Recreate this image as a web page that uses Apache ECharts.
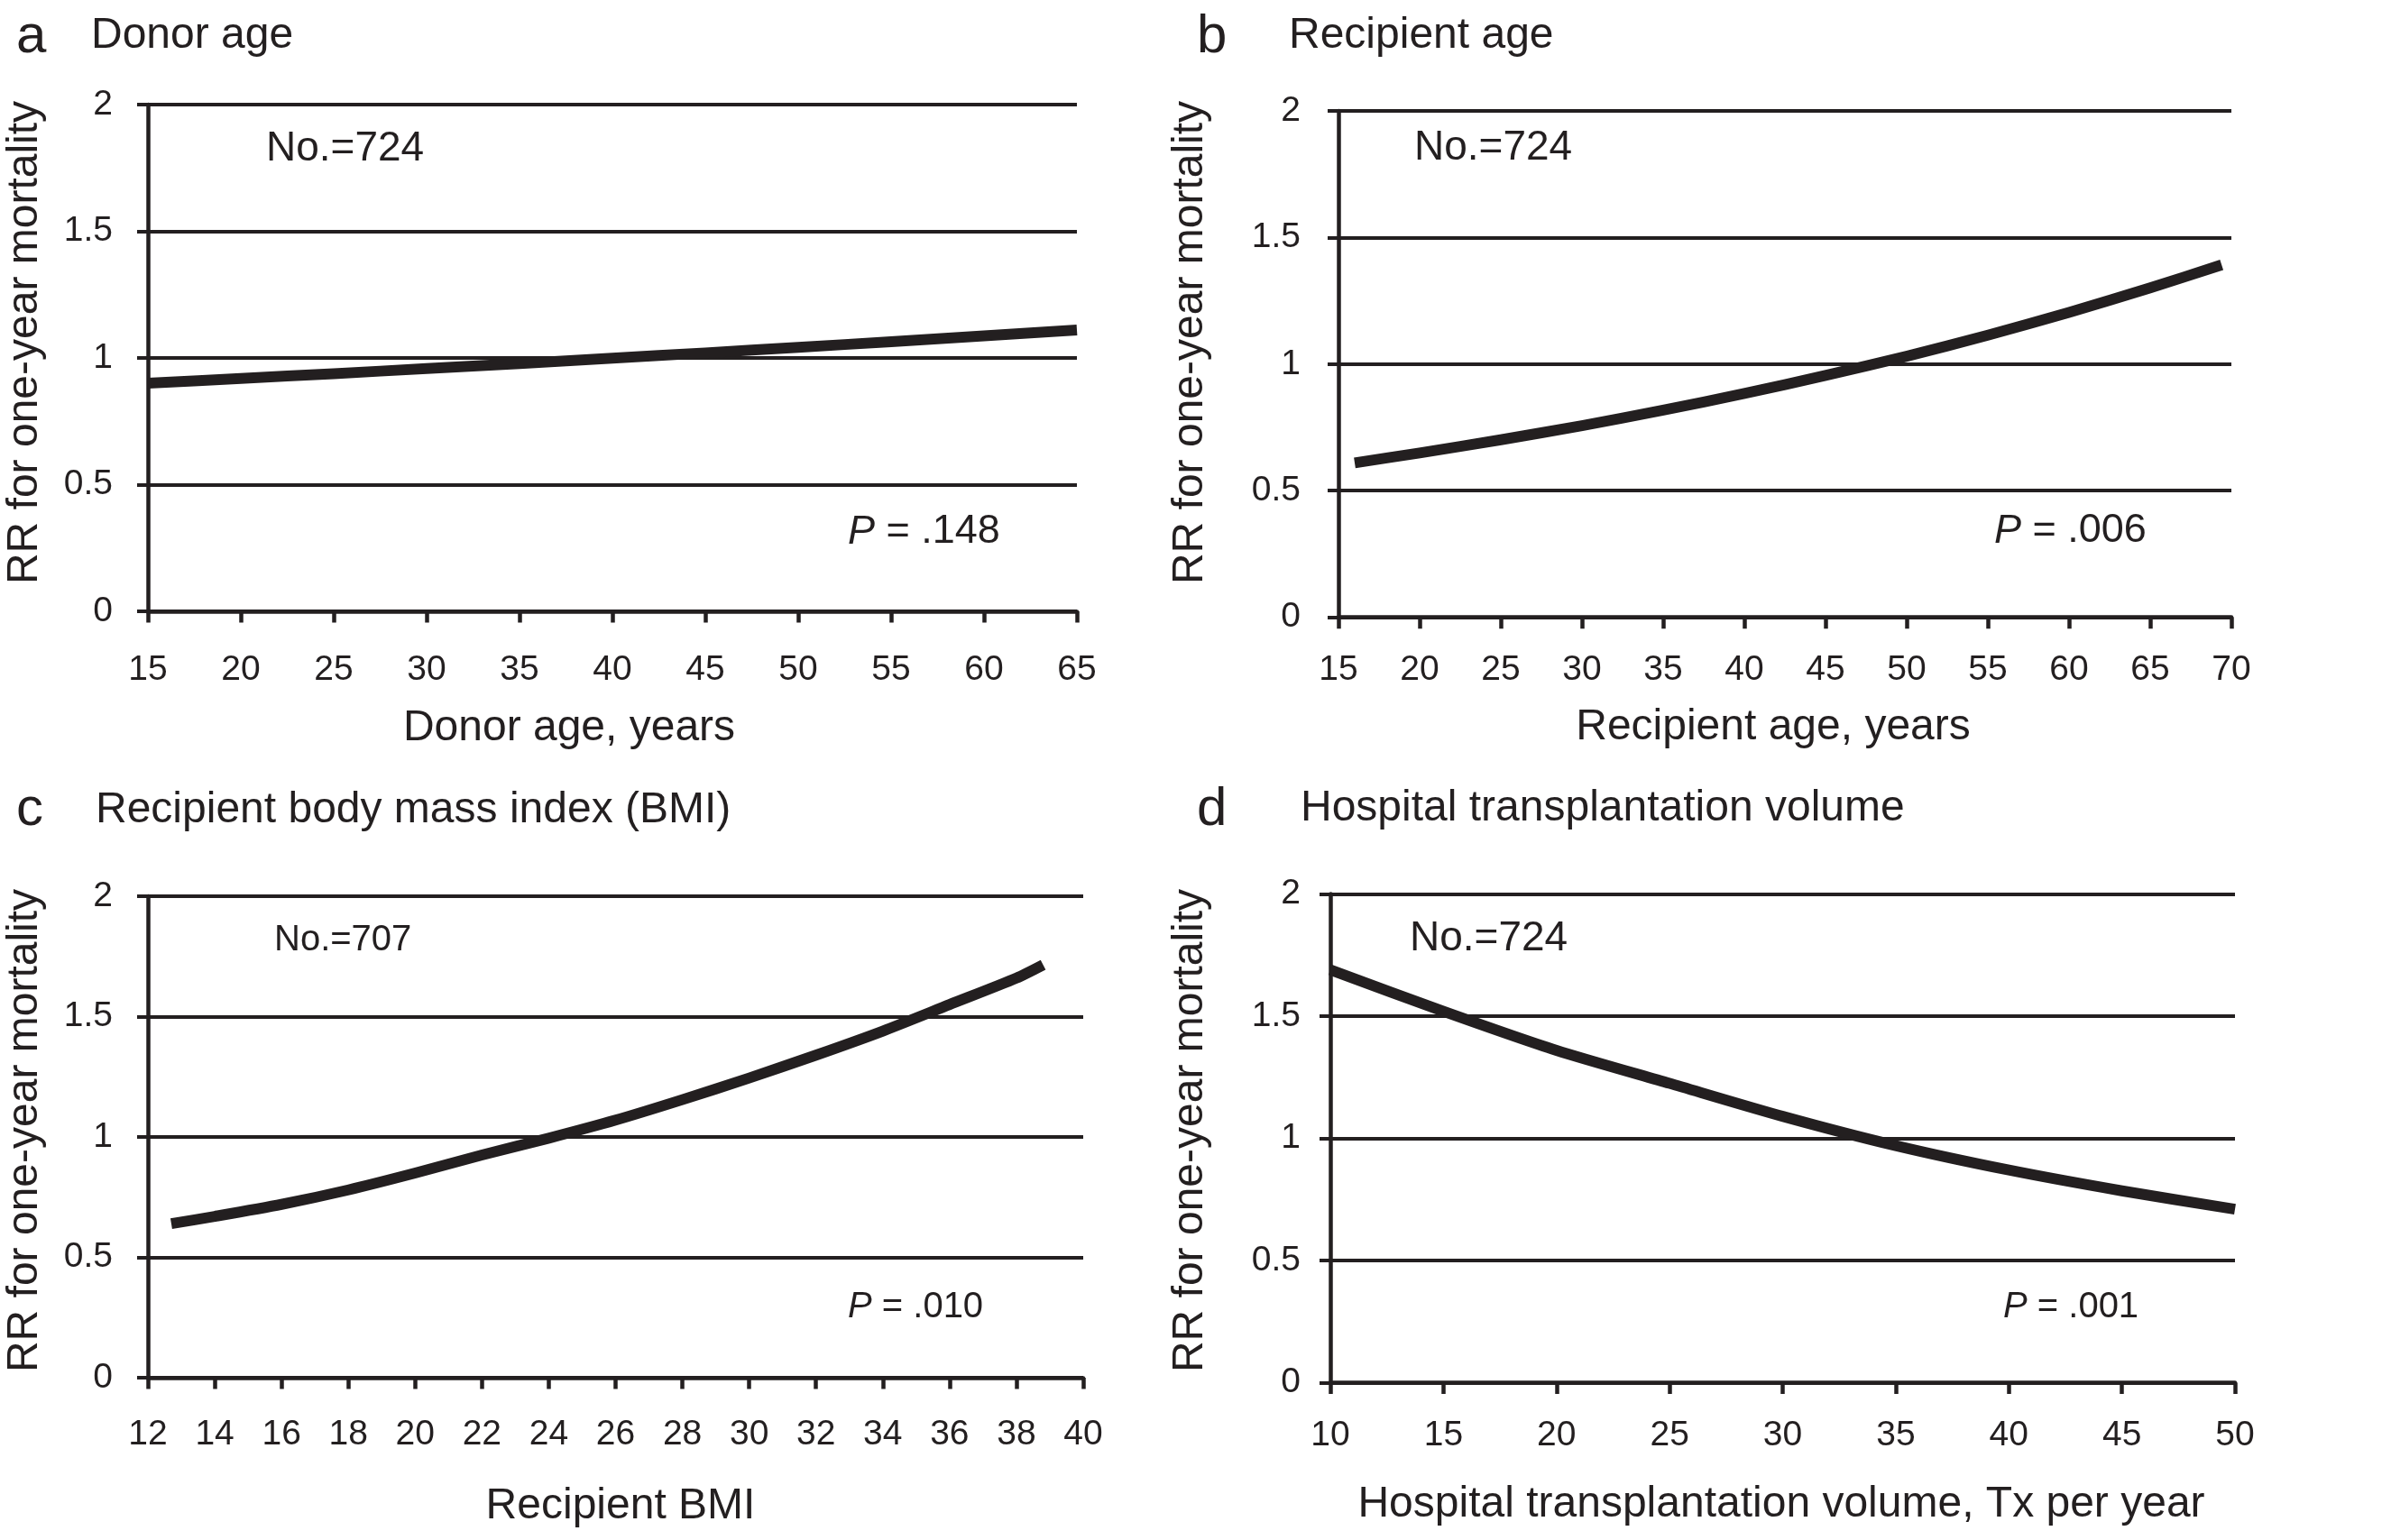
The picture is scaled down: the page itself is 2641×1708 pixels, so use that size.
<!DOCTYPE html>
<html>
<head>
<meta charset="utf-8">
<script src="https://cdn.jsdelivr.net/npm/echarts@6/dist/echarts.min.js"></script>
<style>
html,body{margin:0;padding:0;background:#fff;}
#chart{width:2641px;height:1708px;}
</style>
</head>
<body>
<div id="chart"></div>
<script>
// ---------- data ----------
// a: Donor age
const donorAge = [15, 20, 25, 30, 35, 40, 45, 50, 55, 60, 65];
const donorRR  = [0.900, 0.919, 0.938, 0.958, 0.978, 0.999, 1.020, 1.042, 1.064, 1.087, 1.110];
// b: Recipient age
const recipAge = [16, 20, 25, 30, 35, 40, 45, 50, 55, 60, 65, 69.4];
const recipRR  = [0.61, 0.649, 0.701, 0.757, 0.818, 0.884, 0.955, 1.031, 1.114, 1.204, 1.301, 1.392];
// c: Recipient BMI
const bmi      = [12.7, 14, 16, 18, 20, 22, 24, 26, 28, 30, 32, 34, 36, 38, 38.8];
const bmiRR    = [0.64, 0.67, 0.72, 0.78, 0.85, 0.925, 0.995, 1.07, 1.155, 1.245, 1.34, 1.44, 1.55, 1.66, 1.715];
// d: Hospital transplantation volume
const volume   = [10, 15, 20, 25, 30, 35, 40, 45, 50];
const volumeRR = [1.69, 1.52, 1.36, 1.225, 1.09, 0.97, 0.87, 0.785, 0.71];

// axis ranges [min, max, interval]
const xRangeA = [15, 65, 5];
const xRangeB = [15, 70, 5];
const xRangeC = [12, 40, 2];
const xRangeD = [10, 50, 5];
const yRange  = [0, 2, 0.5];

// texts
const panelLetters = ['a', 'b', 'c', 'd'];
const panelTitles  = ['Donor age', 'Recipient age', 'Recipient body mass index (BMI)', 'Hospital transplantation volume'];
const xNames       = ['Donor age, years', 'Recipient age, years', 'Recipient BMI', 'Hospital transplantation volume, Tx per year'];
const yName        = 'RR for one-year mortality';
const countTexts   = ['No.=724', 'No.=724', 'No.=707', 'No.=724'];
const pValues      = ['.148', '.006', '.010', '.001'];

// ---------- layout ----------
const INK = '#231f20';
const FONT = "'Liberation Sans', Arial, Helvetica, sans-serif";
const grids = [
  {left: 164,  top: 116,   width: 1030, height: 562},
  {left: 1484, top: 123,   width: 990,  height: 561.6},
  {left: 164,  top: 994,   width: 1037, height: 534},
  {left: 1475, top: 991.5, width: 1003, height: 542}
];
const xRanges = [xRangeA, xRangeB, xRangeC, xRangeD];
const xLabelMargin = [45.5, 39.5, 43.5, 39.5];
const yLabelMargin = [39, 42, 39, 33];
const seriesData = [
  [donorAge, donorRR], [recipAge, recipRR], [bmi, bmiRR], [volume, volumeRR]
];

const xAxes = xRanges.map((r, i) => ({
  type: 'value', gridIndex: i, min: r[0], max: r[1], interval: r[2],
  axisLine: {show: true, onZero: false, lineStyle: {color: INK, width: 4.5}},
  axisTick: {show: true, inside: false, length: 12.6, lineStyle: {color: INK, width: 4.5}},
  axisLabel: {fontSize: 39, color: INK, fontFamily: FONT, margin: xLabelMargin[i]},
  splitLine: {show: false}
}));
const yAxes = grids.map((g, i) => ({
  type: 'value', gridIndex: i, min: yRange[0], max: yRange[1], interval: yRange[2],
  axisLine: {show: true, lineStyle: {color: INK, width: 4.5}},
  axisTick: {show: true, inside: false, length: 12, lineStyle: {color: INK, width: 4}},
  axisLabel: {fontSize: 39, color: INK, fontFamily: FONT, margin: yLabelMargin[i]},
  splitLine: {show: true, lineStyle: {color: INK, width: 4}}
}));
const series = seriesData.map((d, i) => ({
  type: 'line', xAxisIndex: i, yAxisIndex: i,
  data: d[0].map((x, k) => [x, d[1][k]]),
  showSymbol: false, smooth: 0.25, clip: false,
  lineStyle: {color: INK, width: 12, cap: 'butt', join: 'round'},
  silent: true, z: 5
}));

// text placement (middle of em box)
const letterPos = [[18, 41], [1327, 41], [18, 898], [1327, 898]];
const titlePos  = [[101, 39.5], [1429, 39.5], [106, 898.5], [1442, 896.5]];
const xNamePos  = [[631, 808], [1966, 807], [688, 1671], [1975, 1669]];
const yNamePos  = [[28, 380], [1320, 380], [28, 1254], [1320, 1254]];
const countPos  = [[295, 165, 46], [1568, 164, 46], [304, 1043, 40], [1563, 1041, 46]];
const pPos      = [[940, 590, 45], [2211, 589, 45], [940, 1450, 40], [2221, 1450, 40]];

const graphics = [];
for (let i = 0; i < 4; i++) {
  graphics.push({type: 'text', x: letterPos[i][0], y: letterPos[i][1],
    style: {text: panelLetters[i], fill: INK, font: '60px ' + FONT, textAlign: 'left', textVerticalAlign: 'middle'}});
  graphics.push({type: 'text', x: titlePos[i][0], y: titlePos[i][1],
    style: {text: panelTitles[i], fill: INK, font: '48px ' + FONT, textAlign: 'left', textVerticalAlign: 'middle'}});
  graphics.push({type: 'text', x: xNamePos[i][0], y: xNamePos[i][1],
    style: {text: xNames[i], fill: INK, font: '48px ' + FONT, textAlign: 'center', textVerticalAlign: 'middle'}});
  graphics.push({type: 'text', x: yNamePos[i][0], y: yNamePos[i][1], rotation: Math.PI / 2,
    style: {text: yName, fill: INK, font: '48px ' + FONT, textAlign: 'center', textVerticalAlign: 'middle'}});
  graphics.push({type: 'text', x: countPos[i][0], y: countPos[i][1],
    style: {text: countTexts[i], fill: INK, font: countPos[i][2] + 'px ' + FONT, textAlign: 'left', textVerticalAlign: 'middle'}});
  const fs = pPos[i][2];
  graphics.push({type: 'text', x: pPos[i][0], y: pPos[i][1],
    style: {
      text: '{it|P}{rg| = ' + pValues[i] + '}',
      textAlign: 'left', textVerticalAlign: 'middle',
      rich: {
        it: {fontStyle: 'italic', fontSize: fs, fontFamily: FONT, fill: INK, color: INK},
        rg: {fontSize: fs, fontFamily: FONT, fill: INK, color: INK}
      }
    }});
}

const chart = echarts.init(document.getElementById('chart'), null, {renderer: 'canvas'});
chart.setOption({
  backgroundColor: '#ffffff',
  animation: false,
  grid: grids.map(g => Object.assign({containLabel: false}, g)),
  xAxis: xAxes,
  yAxis: yAxes,
  series: series,
  graphic: graphics
});
</script>
</body>
</html>
